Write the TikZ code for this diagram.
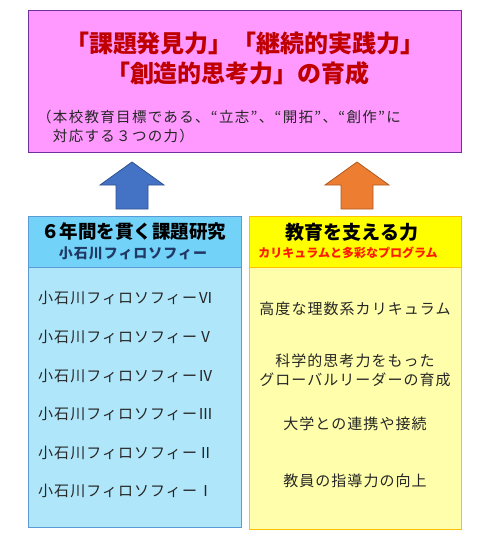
\documentclass[tikz,border=0pt]{standalone}
\usepackage{fontspec}
\setmainfont{Noto Sans CJK JP}
\newfontfamily\spaced[LetterSpace=7]{Noto Sans CJK JP}
\newfontfamily\spacednote[LetterSpace=9]{Noto Sans CJK JP}
\definecolor{pinkfill}{HTML}{FF99FF}
\definecolor{purpleline}{HTML}{7030A0}
\definecolor{titlered}{HTML}{C00000}
\definecolor{arrowblue}{HTML}{4472C4}
\definecolor{arrowblueline}{HTML}{2F528F}
\definecolor{arroworange}{HTML}{ED7D31}
\definecolor{arroworangeline}{HTML}{AE5A21}
\definecolor{bluehead}{HTML}{72D2F7}
\definecolor{bluebody}{HTML}{AFE6FA}
\definecolor{blueline}{HTML}{5B9BD5}
\definecolor{yellowhead}{HTML}{FFFF00}
\definecolor{yellowbody}{HTML}{FFFFAB}
\definecolor{yellowline}{HTML}{FFC000}
\definecolor{navy}{HTML}{203864}
\definecolor{textdark}{HTML}{262626}
\definecolor{subred}{HTML}{FF1A00}
\begin{document}
\begin{tikzpicture}[x=1pt,y=-1pt,
  boxshape/.style={draw, line width=1pt, inner sep=0pt, outer sep=0pt},
  itemtext/.style={text=textdark, font=\spaced\fontsize{15}{20}\selectfont, inner sep=0pt},
  blockarrow/.style={line width=0.8pt, line join=miter}]
\useasboundingbox (0,0) rectangle (500,547);
% top box
\node[boxshape, draw=purpleline, fill=pinkfill, minimum width=433pt, minimum height=142pt, anchor=north west] (goal) at (28,10) {};
\node[text=titlered, font=\bfseries\fontsize{24}{30}\selectfont, inner sep=0pt] (title1) at (245,43) {「課題発見力」「継続的実践力」};
\node[text=titlered, font=\bfseries\fontsize{24}{30}\selectfont, inner sep=0pt] (title2) at (238,73) {「創造的思考力」の育成};
\node[text=textdark, font=\spacednote\fontsize{14.5}{19}\selectfont, align=left, inner sep=0pt, anchor=west] (note) at (37,126) {（本校教育目標である、“立志”、“開拓”、“創作”に\\　対応する３つの力）};
% arrows
\coordinate (ba) at (132,162);
\coordinate (oa) at (357,162);
\draw[blockarrow, draw=arrowblueline, fill=arrowblue] (ba) -- ++(32,23) -- ++(-16,0) -- ++(0,24) -- ++(-32,0) -- ++(0,-24) -- ++(-16,0) -- cycle;
\draw[blockarrow, draw=arroworangeline, fill=arroworange] (oa) -- ++(32,23) -- ++(-16,0) -- ++(0,24) -- ++(-32,0) -- ++(0,-24) -- ++(-16,0) -- cycle;
% left column
\node[boxshape, draw=blueline, fill=bluebody, minimum width=213pt, minimum height=260pt, anchor=north west] (lbody) at (28,267) {};
\node[boxshape, draw=blueline, fill=bluehead, minimum width=213pt, minimum height=51pt, anchor=north west] (lhead) at (28,216) {};
\node[font=\bfseries\fontsize{18.5}{22}\selectfont, inner sep=0pt] (lt) at (134,232) {６年間を貫く課題研究};
\node[text=navy, font=\spaced\bfseries\fontsize{14}{18}\selectfont, inner sep=0pt] (ls) at (133,253) {小石川フィロソフィー};
\node[itemtext, anchor=west] (p6) at (38,298) {小石川フィロソフィーⅥ};
\node[itemtext, anchor=west] (p5) at (38,337) {小石川フィロソフィーⅤ};
\node[itemtext, anchor=west] (p4) at (38,376) {小石川フィロソフィーⅣ};
\node[itemtext, anchor=west] (p3) at (38,414) {小石川フィロソフィーⅢ};
\node[itemtext, anchor=west] (p2) at (38,453) {小石川フィロソフィーⅡ};
\node[itemtext, anchor=west] (p1) at (38,491) {小石川フィロソフィーⅠ};
% right column
\node[boxshape, draw=yellowline, fill=yellowbody, minimum width=212pt, minimum height=262pt, anchor=north west] (rbody) at (249,267) {};
\node[boxshape, draw=yellowline, fill=yellowhead, minimum width=212pt, minimum height=51pt, anchor=north west] (rhead) at (249,216) {};
\node[font=\bfseries\fontsize{19}{22}\selectfont, inner sep=0pt] (rt) at (352,232) {教育を支える力};
\node[text=subred, font=\bfseries\fontsize{12}{14}\selectfont, inner sep=0pt] (rs) at (348,253) {カリキュラムと多彩なプログラム};
\node[itemtext] (c1) at (355,309) {高度な理数系カリキュラム};
\node[itemtext, align=center, font=\spaced\fontsize{15}{19}\selectfont] (c2) at (355,370) {科学的思考力をもった\\グローバルリーダーの育成};
\node[itemtext] (c3) at (355,424) {大学との連携や接続};
\node[itemtext] (c4) at (355,481) {教員の指導力の向上};
\end{tikzpicture}
\end{document}
